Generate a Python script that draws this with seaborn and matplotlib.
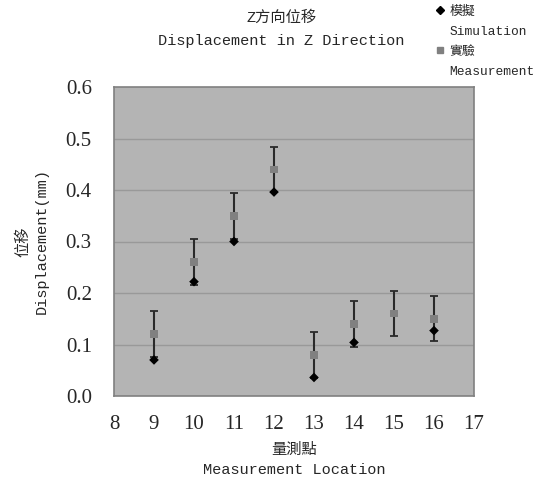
import numpy as np
import matplotlib
matplotlib.use("Agg")
import matplotlib.pyplot as plt
import seaborn as sns
import pandas as pd
from matplotlib.lines import Line2D

# Données
meas_x = [9, 10, 11, 12, 13, 14, 15, 16]
meas_y = [0.12, 0.26, 0.35, 0.44, 0.08, 0.14, 0.16, 0.15]
meas_err = [0.045, 0.045, 0.045, 0.044, 0.045, 0.044, 0.044, 0.044]
sim_x = [9, 10, 11, 12, 13, 14, 16]
sim_y = [0.070, 0.222, 0.300, 0.396, 0.036, 0.104, 0.127]

x_ticks = [8, 9, 10, 11, 12, 13, 14, 15, 16, 17]
y_ticks = [0.0, 0.1, 0.2, 0.3, 0.4, 0.5, 0.6]

sns.set_style("white")
label_font = ['Liberation Mono', 'Noto Sans CJK TC']
plt.rcParams['font.family'] = label_font

meas = pd.DataFrame({'x': meas_x, 'y': meas_y})
sim = pd.DataFrame({'x': sim_x, 'y': sim_y})

fig = plt.figure(figsize=(5.46, 4.87), dpi=100)
ax = fig.add_axes([114 / 546, 1 - 396 / 487, 360 / 546, 309 / 487])
ax.set_facecolor('#b4b4b4')

ax.errorbar(meas_x, meas_y, yerr=meas_err, fmt='none', ecolor='#2a2a2a',
            elinewidth=1.5, capsize=2.7, capthick=1.3, zorder=2)
sns.scatterplot(data=meas, x='x', y='y', marker='s', s=30, color='#808080',
                edgecolor='none', ax=ax, zorder=3)
sns.scatterplot(data=sim, x='x', y='y', marker='D', s=24, color='black',
                edgecolor='none', ax=ax, zorder=4)

ax.set_xlim(8, 17)
ax.set_ylim(0, 0.6)
ax.set_xticks(x_ticks)
ax.set_yticks(y_ticks)
ax.set_xticklabels([str(t) for t in x_ticks], family='Liberation Serif', fontsize=15)
ax.set_yticklabels([f"{t:.1f}" for t in y_ticks], family='Liberation Serif', fontsize=15)
ax.tick_params(axis='x', direction='in', length=5, color='#a0a0a0', pad=14)
ax.tick_params(axis='y', length=0, pad=16)
for t in y_ticks[1:-1]:
    ax.axhline(t, color='#999999', lw=1, zorder=1)
for s in ax.spines.values():
    s.set_color('#808080')
    s.set_linewidth(1.2)

ax.set_xlabel("量測點\nMeasurement Location", fontsize=11, linespacing=1.6, labelpad=6)
ax.set_ylabel("位移\nDisplacement(mm)", fontsize=11, linespacing=1.45, labelpad=12)

fig.text(0.515, 0.978, "Z方向位移", ha='center', va='top', fontsize=11)
fig.text(0.515, 0.93, "Displacement in Z Direction", ha='center', va='top', fontsize=11)

# légende : une entrée par ligne, marqueur sur la première ligne
blank = Line2D([], [], ls='none', marker='none')
handles = [Line2D([], [], marker='D', color='black', ls='none', markersize=4.5),
           blank,
           Line2D([], [], marker='s', color='#808080', ls='none', markersize=5),
           blank]
labels = ["模擬", "Simulation", "實驗", "Measurement"]
fig.legend(handles, labels, loc='upper left',
           bbox_to_anchor=(0.797, 0.992), frameon=False, fontsize=9.3,
           handlelength=0.5, handletextpad=0.45, labelspacing=0.62,
           borderaxespad=0, borderpad=0.15)

fig.savefig("out.png", dpi=100)
